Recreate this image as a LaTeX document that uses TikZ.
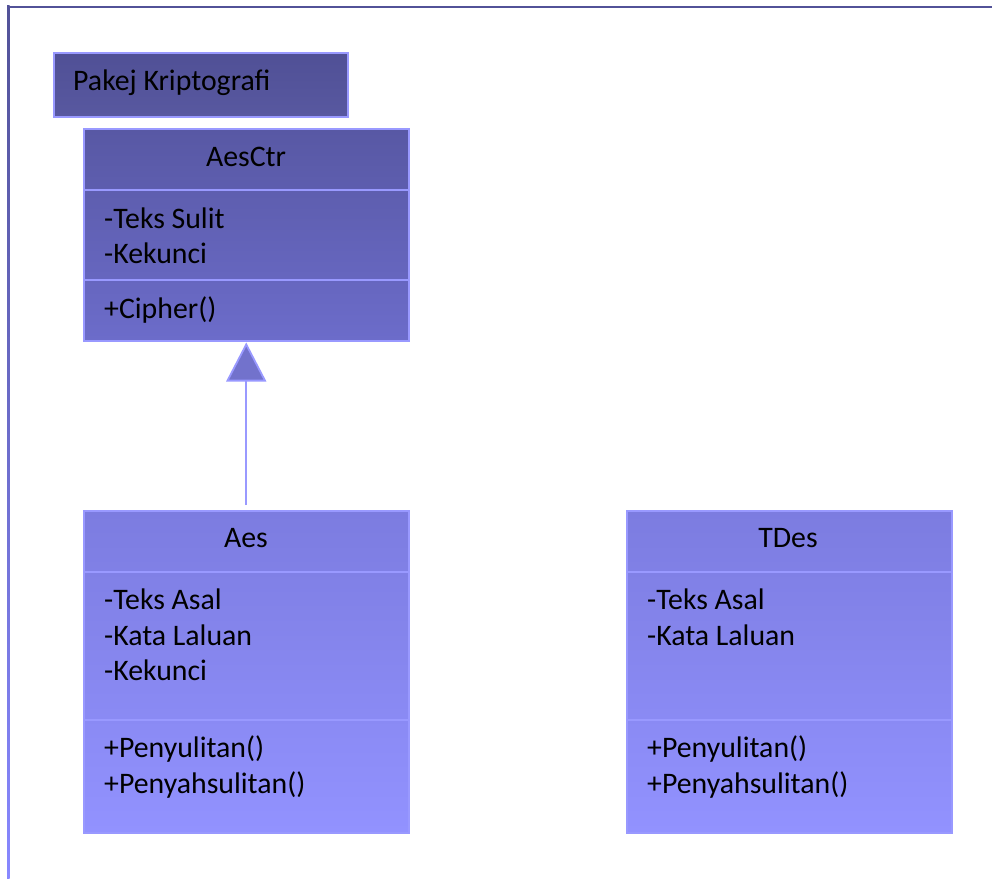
\documentclass[tikz,border=0pt]{standalone}
\usepackage{fontspec}
\setmainfont{Carlito}
\usetikzlibrary{arrows.meta}
\definecolor{edge}{RGB}{153,153,255}
\definecolor{frametop}{RGB}{82,82,152}
\definecolor{framebot}{RGB}{136,136,255}
\definecolor{pkgtop}{RGB}{80,80,150}
\definecolor{pkgbot}{RGB}{88,88,160}
\definecolor{ctrtop}{RGB}{88,88,164}
\definecolor{ctrbot}{RGB}{108,108,202}
\definecolor{clstop}{RGB}{124,124,224}
\definecolor{clsbot}{RGB}{146,146,255}
\definecolor{tri}{RGB}{114,114,204}
\begin{document}
\begin{tikzpicture}[x=1pt,y=-1pt,
  box/.style={draw=edge, line width=1.5pt, rectangle, anchor=north west, inner sep=0pt},
  txt/.style={anchor=base west, inner sep=0pt, text=black, font=\fontsize{29.8}{35}\selectfont},
  ttl/.style={anchor=base, inner sep=0pt, text=black, font=\fontsize{29.8}{35}\selectfont},
  div/.style={draw=edge, line width=1.5pt}]
\useasboundingbox (0,0) rectangle (992,878);
\fill[white] (0,0) rectangle (992,878);
% frame
\fill[frametop] (7,5.5) rectangle (992,8);
\shade[top color=frametop, bottom color=framebot] (7,5.5) rectangle (9.5,878);
% package tab
\node[box, minimum width=294pt, minimum height=64pt, top color=pkgtop, bottom color=pkgbot] (pkg) at (53,52) {};
\node[txt] (pkgname) at (73,90) {Pakej Kriptografi};
% AesCtr
\node[box, minimum width=325pt, minimum height=212pt, top color=ctrtop, bottom color=ctrbot] (aesctr) at (83,128) {};
\draw[div] (83,190) -- (408,190);
\draw[div] (83,280) -- (408,280);
\node[ttl] (aesctrname) at (246,166) {AesCtr};
\node[txt] (ctra1) at (104,228) {-Teks Sulit};
\node[txt] (ctra2) at (104,263) {-Kekunci};
\node[txt] (ctrm1) at (104,318) {+Cipher()};
% Aes
\node[box, minimum width=325pt, minimum height=322pt, top color=clstop, bottom color=clsbot] (aes) at (83,510) {};
\draw[div] (83,572) -- (408,572);
\draw[div] (83,720) -- (408,720);
\node[ttl] (aesname) at (246,547) {Aes};
\node[txt] (aesa1) at (104,609) {-Teks Asal};
\node[txt] (aesa2) at (104,645) {-Kata Laluan};
\node[txt] (aesa3) at (104,680) {-Kekunci};
\node[txt] (aesm1) at (104,757) {+Penyulitan()};
\node[txt] (aesm2) at (104,793) {+Penyahsulitan()};
% TDes
\node[box, minimum width=325pt, minimum height=322pt, top color=clstop, bottom color=clsbot] (tdes) at (626,510) {};
\draw[div] (626,572) -- (951,572);
\draw[div] (626,720) -- (951,720);
\node[ttl] (tdesname) at (788,547) {TDes};
\node[txt] (tdesa1) at (647,609) {-Teks Asal};
\node[txt] (tdesa2) at (647,645) {-Kata Laluan};
\node[txt] (tdesm1) at (647,757) {+Penyulitan()};
\node[txt] (tdesm2) at (647,793) {+Penyahsulitan()};
% generalization
\draw[edge, line width=1.8pt, -{Triangle[length=39pt, width=40pt, fill=tri]}, shorten <=5pt, shorten >=1pt] (aes.north) -- (aesctr.south);
\end{tikzpicture}
\end{document}
